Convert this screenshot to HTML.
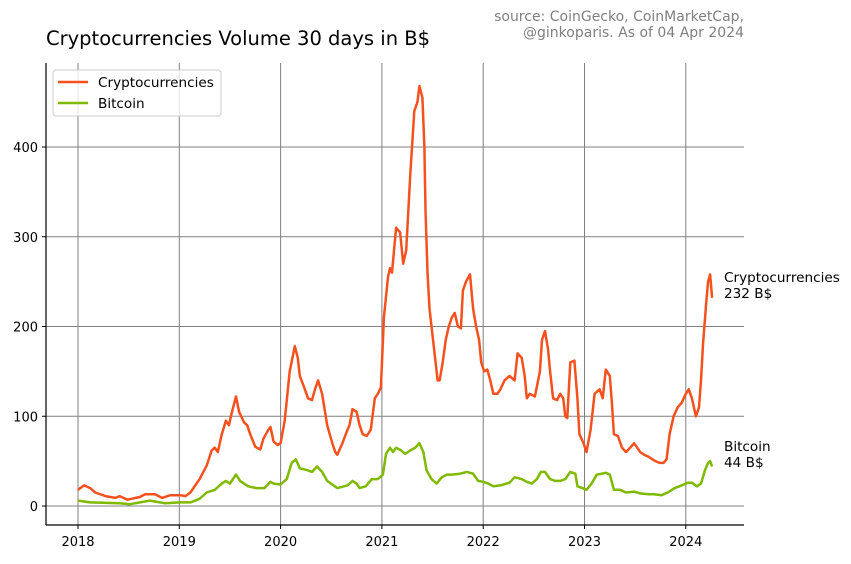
<!DOCTYPE html>
<html><head><meta charset="utf-8"><style>
body{margin:0;background:#fff;}
svg text{font-family:"DejaVu Sans","Liberation Sans",sans-serif;}
</style></head><body>
<svg id="chart" width="851" height="559" xmlns="http://www.w3.org/2000/svg">
<rect width="851" height="559" fill="#fff"/>
<text x="46" y="45" font-size="19.5" fill="#000">Cryptocurrencies Volume 30 days in B$</text>
<text x="744" y="21" font-size="14" fill="#808080" text-anchor="end">source: CoinGecko, CoinMarketCap,</text>
<text x="744" y="37" font-size="14" fill="#808080" text-anchor="end">@ginkoparis. As of 04 Apr 2024</text>
<g id="grid"></g><g id="axes"></g><g id="series"></g><g id="labels"></g>
<g>
<rect x="53" y="70" width="168" height="46" rx="3" fill="#fff" fill-opacity="0.8" stroke="#ccc"/>
<line x1="58" y1="82" x2="88" y2="82" stroke="#f4511e" stroke-width="2.5"/>
<text x="98" y="87" font-size="13.6">Cryptocurrencies</text>
<line x1="58" y1="103" x2="88" y2="103" stroke="#7fba00" stroke-width="2.5"/>
<text x="98" y="108" font-size="13.6">Bitcoin</text>
</g>
</svg>
<script>
const yearTicks=[2018,2019,2020,2021,2022,2023,2024];
const valueTicks=[0,100,200,300,400];
const cryptoYears=[0.00,0.06,0.12,0.17,0.27,0.37,0.41,0.49,0.61,0.66,0.76,0.83,0.91,1.01,1.06,1.11,1.20,1.27,1.32,1.35,1.38,1.42,1.46,1.49,1.52,1.56,1.59,1.64,1.67,1.70,1.75,1.80,1.83,1.88,1.90,1.93,1.97,2.00,2.04,2.09,2.14,2.17,2.19,2.24,2.27,2.31,2.34,2.37,2.41,2.46,2.51,2.54,2.56,2.61,2.66,2.68,2.71,2.75,2.78,2.81,2.85,2.89,2.93,2.96,2.99,3.02,3.06,3.08,3.10,3.14,3.18,3.21,3.24,3.28,3.32,3.35,3.37,3.40,3.42,3.43,3.45,3.47,3.49,3.53,3.55,3.57,3.60,3.63,3.66,3.69,3.72,3.75,3.78,3.80,3.83,3.87,3.90,3.93,3.96,3.98,4.01,4.04,4.07,4.10,4.14,4.17,4.21,4.26,4.31,4.34,4.38,4.41,4.43,4.46,4.51,4.56,4.58,4.61,4.64,4.66,4.69,4.73,4.76,4.79,4.81,4.83,4.86,4.90,4.93,4.95,4.99,5.02,5.06,5.10,5.15,5.18,5.21,5.25,5.27,5.29,5.33,5.37,5.41,5.45,5.49,5.52,5.55,5.59,5.63,5.67,5.70,5.74,5.78,5.81,5.84,5.88,5.92,5.96,6.00,6.03,6.06,6.10,6.13,6.15,6.17,6.20,6.22,6.24,6.25,6.26];
const cryptoValues=[18,23,20,15,11,9,11,7,10,13,13,9,12,12,11,15,30,45,62,65,60,80,95,90,105,122,105,93,90,80,66,63,75,85,88,72,68,70,95,150,178,165,145,130,120,118,130,140,125,90,70,60,57,70,85,90,108,105,90,80,78,85,120,125,132,210,255,265,260,310,305,270,285,370,440,450,468,455,400,330,260,220,200,160,140,140,160,185,200,210,215,200,198,240,250,258,220,200,185,160,150,152,140,125,125,130,140,145,140,170,165,145,120,125,122,150,185,195,175,150,120,118,125,120,100,98,160,162,120,80,70,60,85,125,130,120,152,145,115,80,78,65,60,65,70,65,60,57,55,52,50,48,48,52,80,100,110,115,125,130,120,100,110,140,180,225,250,258,245,232];
const btcYears=[0.00,0.12,0.41,0.51,0.71,0.81,0.86,1.01,1.11,1.20,1.27,1.35,1.42,1.46,1.50,1.56,1.60,1.68,1.76,1.84,1.90,1.93,2.00,2.06,2.11,2.15,2.19,2.26,2.31,2.36,2.41,2.46,2.56,2.66,2.71,2.75,2.78,2.84,2.90,2.96,3.01,3.04,3.08,3.11,3.14,3.19,3.23,3.28,3.33,3.37,3.41,3.44,3.49,3.54,3.59,3.64,3.69,3.77,3.84,3.90,3.95,4.00,4.05,4.10,4.17,4.26,4.31,4.38,4.43,4.48,4.53,4.57,4.61,4.66,4.71,4.76,4.81,4.86,4.91,4.93,4.98,5.02,5.07,5.12,5.17,5.21,5.25,5.29,5.35,5.41,5.49,5.55,5.63,5.69,5.76,5.82,5.89,5.96,6.02,6.06,6.11,6.15,6.19,6.22,6.24,6.26];
const btcValues=[6,4,3,2,6,4,3,4,4,8,15,18,25,28,25,35,28,22,20,20,27,25,24,30,48,52,42,40,38,44,38,28,20,23,28,25,20,22,30,30,35,58,65,60,65,62,58,62,65,70,60,40,30,25,32,35,35,36,38,36,28,27,25,22,23,26,32,30,27,25,30,38,38,30,28,28,30,38,36,22,20,18,25,35,36,37,35,18,18,15,16,14,13,13,12,15,20,23,26,26,22,25,40,48,50,44];
const NS="http://www.w3.org/2000/svg";
const L=46,R=744,T=63,B=525;
function xs(yr){return 78+(yr-2018)*101.3;}
function ys(v){return 506-v*0.8975;}
function mk(tag,attrs,parent){const e=document.createElementNS(NS,tag);for(const k in attrs)e.setAttribute(k,attrs[k]);parent.appendChild(e);return e;}
const grid=document.getElementById('grid'),axes=document.getElementById('axes'),series=document.getElementById('series'),labels=document.getElementById('labels');
yearTicks.forEach(y=>{
 const l=mk('line',{x1:xs(y),x2:xs(y),y1:T,y2:B,stroke:'#808080','stroke-width':1},grid);
 
 
 mk('line',{x1:xs(y),x2:xs(y),y1:B,y2:B+4,stroke:'#000'},axes);
 const t=mk('text',{x:xs(y),y:B+21,'font-size':13,'text-anchor':'middle'},axes);
 t.textContent=y;
 
 
});
valueTicks.forEach(v=>{
 const l=mk('line',{x1:L,x2:R,y1:ys(v),y2:ys(v),stroke:'#808080','stroke-width':1},grid);
 
 
 mk('line',{x1:L-4,x2:L,y1:ys(v),y2:ys(v),stroke:'#000'},axes);
 const t=mk('text',{x:L-8,y:ys(v)+5,'font-size':13,'text-anchor':'end'},axes);
 t.textContent=v;
 
 
});
const ya=mk('line',{x1:L,x2:L,y1:T,y2:B,stroke:'#000','stroke-width':1.2},axes);


const xa=mk('line',{x1:L,x2:R,y1:B,y2:B,stroke:'#000','stroke-width':1.2},axes);


function draw(yrs,vals,color,name){
 const d=yrs.map((y,i)=>(i?'L':'M')+xs(2018+y).toFixed(1)+','+ys(vals[i]).toFixed(1)).join('');
 const p=mk('path',{d:d,fill:'none',stroke:color,'stroke-width':2.5,'stroke-linejoin':'round'},series);
 
 
}
draw(btcYears,btcValues,'#7fba00','bitcoin-line');
draw(cryptoYears,cryptoValues,'#f4511e','cryptocurrencies-line');
function endLabel(name,val,y){
 const t1=mk('text',{x:724,y:y,'font-size':13.6},labels);t1.textContent=name;
 
 
 const t2=mk('text',{x:724,y:y+16,'font-size':13.6},labels);t2.textContent=Math.round(val)+' B$';
 
 
}
endLabel('Cryptocurrencies',cryptoValues[cryptoValues.length-1],282);
endLabel('Bitcoin',btcValues[btcValues.length-1],451);
</script>
</body></html>
